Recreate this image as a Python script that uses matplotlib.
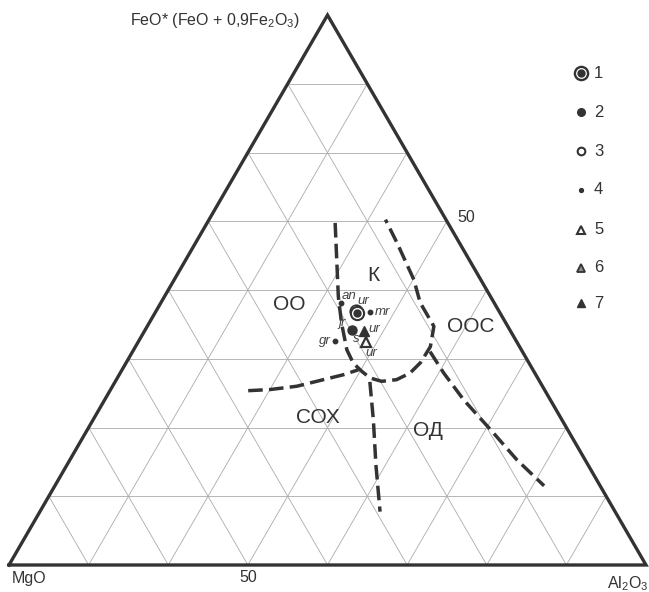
import numpy as np
import matplotlib
matplotlib.use("Agg")
import matplotlib.pyplot as plt

plt.rcParams["font.family"] = ["Liberation Sans", "DejaVu Sans"]
plt.rcParams["mathtext.fontset"] = "custom"
plt.rcParams["mathtext.rm"] = "Liberation Sans"
plt.rcParams["mathtext.it"] = "Liberation Sans:italic"

# ternary compositions, percent: (Al2O3, FeO*), MgO is the rest
sample_labels = ["an", "ur", "mr", "jr", "ur", "gr", "ur", "s"]
sym1_pts = [(31.8, 45.8)]
sym3_pts = [(31.3, 46.2)]
sym2_pts = [(32.4, 42.8)]
sym4_pts = [(28.3, 47.7), (33.7, 46.0), (30.8, 40.8)]
sym5_pts = [(35.7, 40.6)]
sym7_pts = [(34.5, 42.6)]

# field boundaries (Al2O3, FeO*)
line_k = [(20.1, 62.2), (27.3, 48.8), (30.2, 44.0), (33.5, 39.1), (35.7, 36.7),
          (37.8, 35.2), (39.7, 34.0), (41.8, 33.4), (44.0, 33.7), (45.5, 34.9),
          (46.2, 36.8), (46.3, 39.7), (45.0, 43.4), (40.7, 47.7), (37.6, 51.9),
          (31.7, 58.5), (27.7, 62.8)]
line_b = [(21.7, 31.7), (25.0, 31.9), (28.9, 32.5), (32.5, 33.7), (35.2, 34.6), (37.1, 35.5)]
line_c = [(40.0, 33.3), (44.0, 26.4), (48.5, 18.2), (53.4, 9.7)]
line_d = [(46.7, 38.8), (50.8, 34.9), (56.4, 30.0), (63.3, 24.6), (70.2, 19.1), (76.8, 14.4)]

field_names = ["К", "ОО", "ООС", "СОХ", "ОД"]
field_pos = [(30.9, 52.6), (20.4, 47.3), (50.8, 43.3), (35.1, 26.9), (53.6, 24.4)]

legend_labels = ["1", "2", "3", "4", "5", "6", "7"]

INK = "#333333"
H = np.sqrt(3) / 2


def tern(pts):
    a = np.array(pts, dtype=float) / 100.0
    al, fe = a[:, 0], a[:, 1]
    return al + fe / 2, fe * H


fig = plt.figure(figsize=(6.49, 5.92), dpi=100)
ax = fig.add_axes([0, 0, 1, 1])
ax.set_xlim(-9 / 637, 640 / 637)
ax.set_ylim(-27 / 635, 565 / 635)
ax.axis("off")

# grid, 8 divisions
n = 8
for i in range(1, n):
    f = i / n
    for seg in ([(0, f), (1 - f, f)], [(f, 0), (f, 1 - f)], [(1 - f, 0), (0, 1 - f)]):
        x, y = tern(np.array(seg) * 100)
        ax.plot(x, y, color="#ababab", lw=0.6, zorder=1)

# triangle frame
x, y = tern([(0, 0), (100, 0), (0, 100), (0, 0)])
ax.plot(x, y, color=INK, lw=2.4, solid_joinstyle="miter", zorder=3)

for line in (line_k, line_b, line_c, line_d):
    x, y = tern(line)
    ax.plot(x, y, color=INK, lw=2.5, dashes=(4.2, 1.8), zorder=4)

for name, pos in zip(field_names, field_pos):
    x, y = tern([pos])
    ax.text(x[0], y[0], name, fontsize=15, color=INK, ha="center", va="center", zorder=5)

# samples
def mk(pts, **kw):
    x, y = tern(pts)
    ax.plot(x, y, ls="none", zorder=6, **kw)

mk(sym3_pts, marker="o", ms=9, mfc="none", mec=INK, mew=1.2)
mk(sym1_pts, marker="o", ms=9.5, mfc="white", mec=INK, mew=1.5)
mk(sym1_pts, marker="o", ms=5, mfc=INK, mec=INK)
mk(sym2_pts, marker="o", ms=6.5, mfc=INK, mec=INK)
mk(sym4_pts, marker="o", ms=3.2, mfc=INK, mec=INK)
mk(sym5_pts, marker="^", ms=7, mfc="white", mec=INK, mew=1.6)
mk(sym7_pts, marker="^", ms=6.5, mfc=INK, mec=INK)

label_anchor = [sym4_pts[0], sym1_pts[0], sym4_pts[1], sym2_pts[0],
                sym7_pts[0], sym4_pts[2], sym5_pts[0], sym2_pts[0]]
label_off = [(6, 5), (4, 9), (3, 0), (-7, 5), (3, 1), (-3, 0), (4, -8), (3, -7)]
label_ha = ["center", "center", "left", "center", "left", "right", "center", "center"]
for lab, p, off, ha in zip(sample_labels, label_anchor, label_off, label_ha):
    x, y = tern([p])
    ax.annotate(lab, (x[0], y[0]), xytext=off, textcoords="offset points",
                fontsize=9.5, style="italic", color="#444444", ha=ha, va="center", zorder=7)

# axis labels
fig.text(215 / 649, 1 - 20 / 592, r"FeO* (FeO + 0,9Fe$_\mathregular{2}$O$_\mathregular{3}$)",
         fontsize=11.5, color=INK, ha="center", va="center")
fig.text(12 / 649, 1 - 579 / 592, "MgO", fontsize=11.5, color=INK, ha="left", va="center")
fig.text(248 / 649, 1 - 578 / 592, "50", fontsize=11.5, color=INK, ha="center", va="center")
fig.text(607 / 649, 1 - 584 / 592, r"Al$_\mathregular{2}$O$_\mathregular{3}$", fontsize=11.5,
         color=INK, ha="left", va="center")
fig.text(466 / 649, 1 - 218 / 592, "50", fontsize=11.5, color=INK, ha="center", va="center")

# legend
leg_y = [73, 112, 151, 190, 230, 268, 303]
leg_style = [
    dict(marker="o", ms=9.5, mfc="white", mec=INK, mew=1.7),
    dict(marker="o", ms=5.5, mfc=INK, mec=INK),
    dict(marker="o", ms=5.5, mfc="white", mec=INK, mew=1.5),
    dict(marker="o", ms=2.8, mfc=INK, mec=INK),
    dict(marker="^", ms=6, mfc="white", mec=INK, mew=1.5),
    dict(marker="^", ms=6, mfc="#8c8c8c", mec=INK, mew=1.3),
    dict(marker="^", ms=6, mfc=INK, mec=INK),
]
for yy, lab, st in zip(leg_y, legend_labels, leg_style):
    fy = 1 - yy / 592
    ax.plot([581 / 649], [fy], transform=fig.transFigure, ls="none", clip_on=False, **st)
    if lab == "1":
        ax.plot([581 / 649], [fy], transform=fig.transFigure, ls="none", clip_on=False,
                marker="o", ms=5, mfc=INK, mec=INK)
    fig.text(594 / 649, fy, lab, fontsize=12, color=INK, ha="left", va="center")

fig.savefig("out.png", dpi=100)
